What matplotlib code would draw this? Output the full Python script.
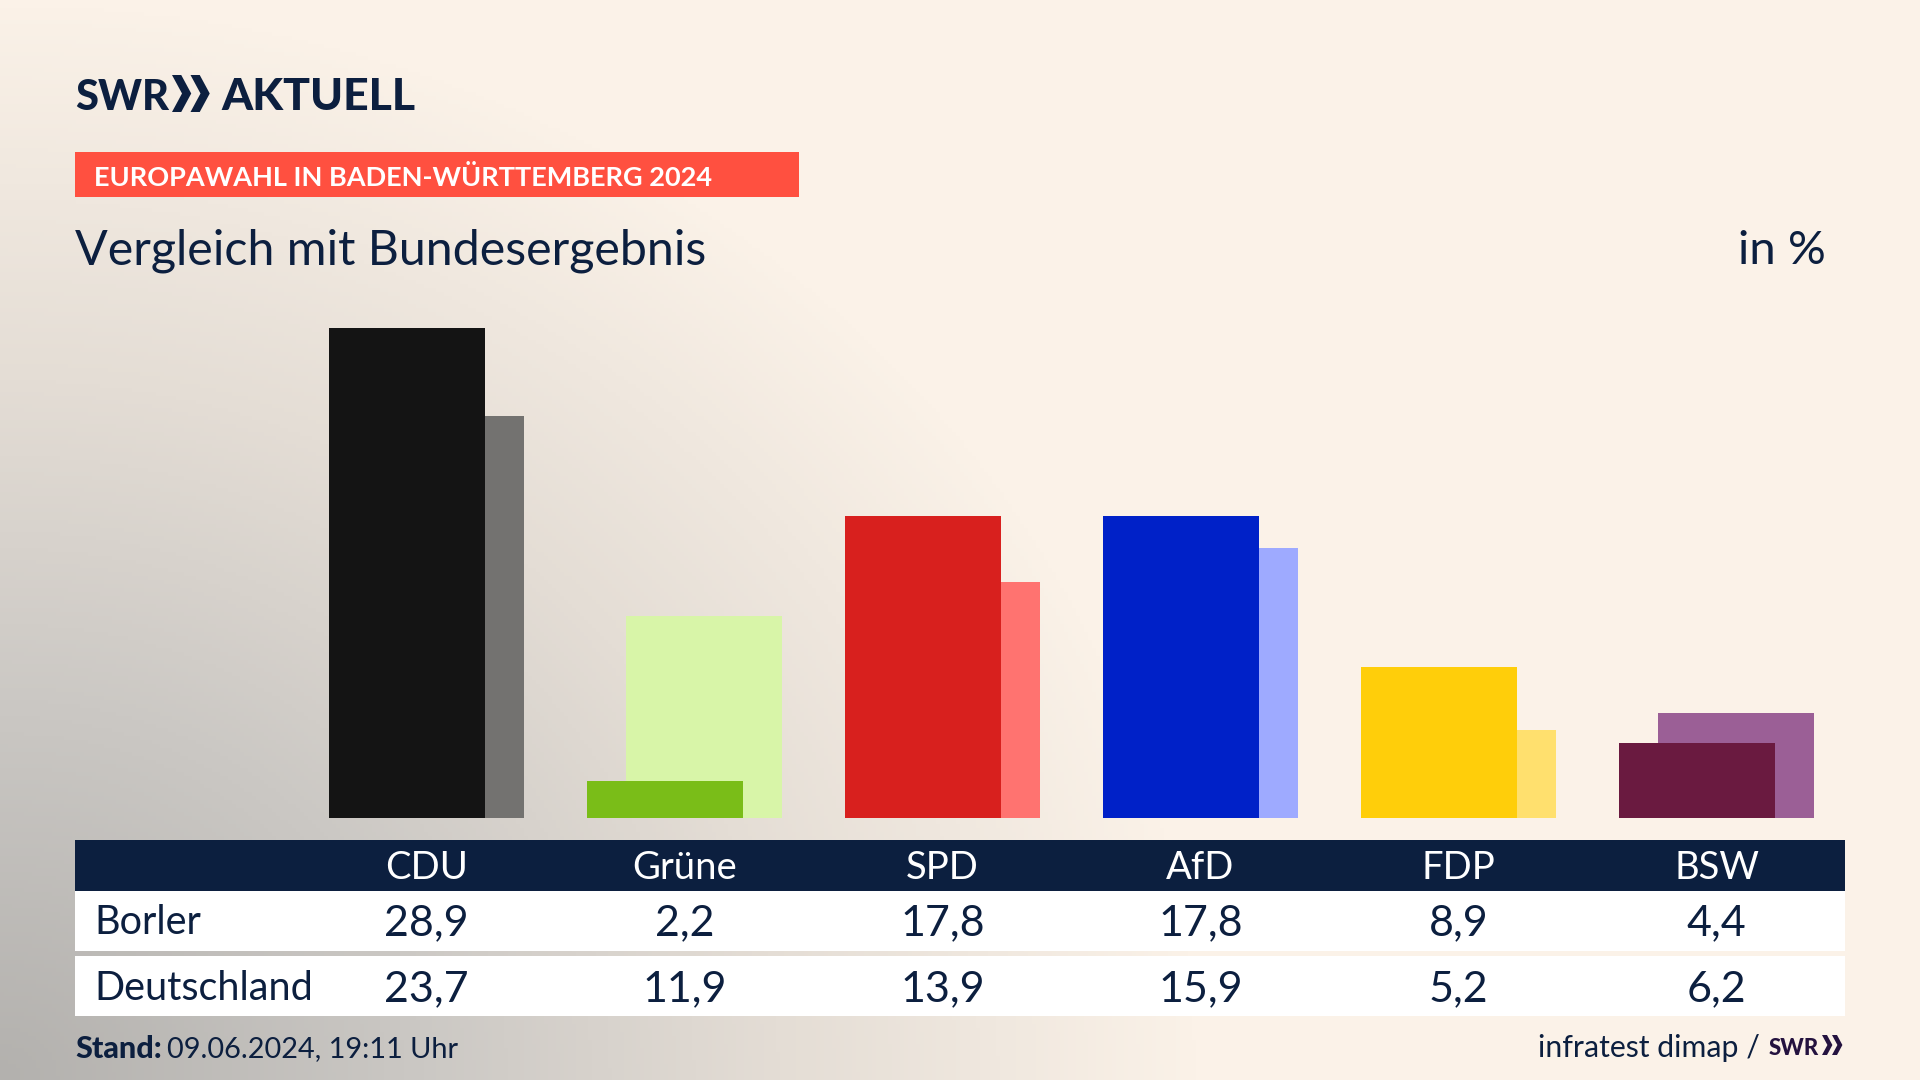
"""SWR Europawahl comparison chart."""

import matplotlib.pyplot as plt
import numpy as np
from matplotlib.colors import LinearSegmentedColormap
from matplotlib.patches import Polygon, Rectangle

parties = ["CDU", "Grüne", "SPD", "AfD", "FDP", "BSW"]
borler = [28.9, 2.2, 17.8, 17.8, 8.9, 4.4]
deutschland = [23.7, 11.9, 13.9, 15.9, 5.2, 6.2]
row_labels = ["Borler", "Deutschland"]
colors_front = ["#141414", "#7ABD18", "#D8201E", "#0021C8", "#FFCE0A", "#6A1A40"]
colors_back = ["#737270", "#D8F5A8", "#FF7370", "#9EAAFF", "#FFE06E", "#9B5F96"]

NAVY = "#0C1F3F"
CREAM = "#FBF2E8"
FONT = "Lato"

plt.rcParams["font.family"] = [FONT, "DejaVu Sans"]

fig = plt.figure(figsize=(19.2, 10.8), dpi=100)

# page axes in pixels, y pointing down
page = fig.add_axes([0, 0, 1, 1])
page.set_xlim(0, 1920)
page.set_ylim(1080, 0)
page.axis("off")

# soft grey glow from the bottom left corner
yy, xx = np.mgrid[0:1080:270j, 0:1920:480j]
dist = np.sqrt((xx / 1200) ** 2 + ((1080 - yy) / 1080) ** 2)
cmap = LinearSegmentedColormap.from_list(
    "bg", [(0, "#B3B1AE"), (0.35, "#CBC8C4"), (0.65, "#E4DDD5"), (1, CREAM)]
)
page.imshow(np.clip(dist, 0, 1), extent=[0, 1920, 1080, 0], cmap=cmap, vmin=0, vmax=1,
            aspect="auto", zorder=0)


def chevrons(x, y, h, color):
    w = h * 0.52
    for dx in (0, h * 0.5):
        pts = [(x + dx, y), (x + dx + w * 0.48, y), (x + dx + w, y + h / 2),
               (x + dx + w * 0.48, y + h), (x + dx, y + h), (x + dx + w * 0.52, y + h / 2)]
        page.add_patch(Polygon(pts, closed=True, color=color, lw=0, zorder=3))


# logo
page.text(75, 110, "SWR", fontsize=30, fontweight="black", color=NAVY, va="baseline", zorder=3)
chevrons(172, 75, 37, NAVY)
page.text(221, 110, "AKTUELL", fontsize=32, fontweight="black", color=NAVY, va="baseline", zorder=3)

# banner
page.add_patch(Rectangle((75, 152), 724, 45, color="#FF5040", lw=0, zorder=2))
page.text(94, 177, "EUROPAWAHL IN BADEN-WÜRTTEMBERG 2024", fontsize=19.5, fontweight="bold",
          color="white", va="center", zorder=3)

page.text(75, 251, "Vergleich mit Bundesergebnis", fontsize=34.8, color=NAVY, va="center", zorder=3)
page.text(1826, 251, "in %", fontsize=34, color=NAVY, va="center", ha="right", zorder=3)

# bars
SPACING = 258
BAR_W = 156 / SPACING
OFFSET = 39 / SPACING
ax = fig.add_axes([0, 1 - 818 / 1080, 1, 490 / 1080])
ax.patch.set_alpha(0)
ax.axis("off")
ax.set_xlim(-329 / SPACING, (1920 - 329) / SPACING)
ax.set_ylim(0, 28.9)
x = np.arange(len(parties))
ax.bar(x + OFFSET, deutschland, BAR_W, align="edge", color=colors_back, lw=0, zorder=1)
ax.bar(x, borler, BAR_W, align="edge", color=colors_front, lw=0, zorder=2)

# table
page.add_patch(Rectangle((75, 840), 1770, 51, color=NAVY, lw=0, zorder=2))
page.add_patch(Rectangle((75, 891), 1770, 60, color="white", lw=0, zorder=2))
page.add_patch(Rectangle((75, 956), 1770, 60, color="white", lw=0, zorder=2))

col_x = 426.5 + SPACING * x
for cx, name, a, b in zip(col_x, parties, borler, deutschland):
    page.text(cx, 868, name, fontsize=27.5, color="white", ha="center", va="center", zorder=3)
    page.text(cx, 923, f"{a:.1f}".replace(".", ","), fontsize=31, color=NAVY,
              ha="center", va="center", zorder=3)
    page.text(cx, 989, f"{b:.1f}".replace(".", ","), fontsize=31, color=NAVY,
              ha="center", va="center", zorder=3)
page.text(94, 923, row_labels[0], fontsize=28.5, color=NAVY, va="center", zorder=3)
page.text(94, 989, row_labels[1], fontsize=28.5, color=NAVY, va="center", zorder=3)

# footer
page.text(75, 1049, "Stand:", fontsize=22, fontweight="black", color=NAVY, va="center", zorder=3)
page.text(167, 1049, "09.06.2024, 19:11 Uhr", fontsize=20.8, color=NAVY, va="center", zorder=3)
page.text(1760, 1048, "infratest dimap /", fontsize=21.8, color=NAVY, va="center", ha="right", zorder=3)
page.text(1769, 1055, "SWR", fontsize=16, fontweight="black", color="#24123F", va="baseline", zorder=3)
chevrons(1822, 1035, 20, "#24123F")

fig.savefig("out.png", dpi=100)
plt.close(fig)
